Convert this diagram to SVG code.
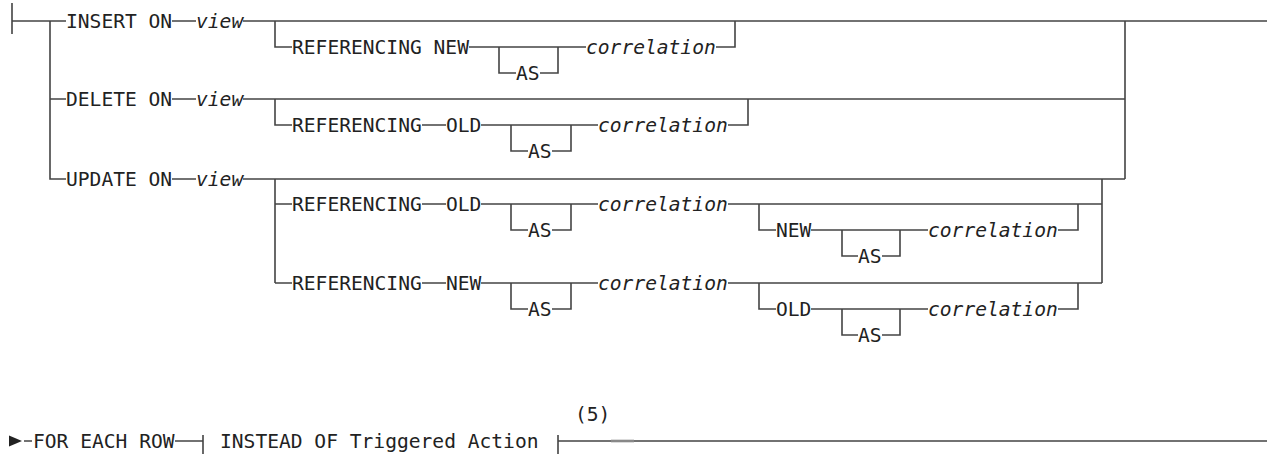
<svg xmlns="http://www.w3.org/2000/svg" width="1267" height="454" viewBox="0 0 1267 454">
<style>
.l{fill:none;stroke:#444;stroke-width:1.6;stroke-linecap:butt;stroke-linejoin:miter}
.k{font-family:"DejaVu Sans Mono","Liberation Mono",monospace;font-size:19.6px;fill:#222}
.v{font-family:"DejaVu Sans Mono","Liberation Mono",monospace;font-size:19.6px;font-style:italic;fill:#222}
</style>
<rect width="1267" height="454" fill="#fff"/>
<g id="connectors">
<path class="l" d="M12 3V34M12 21H66M172 21H196M243 21H1267M50 21V179H66M50 99H66M1125 21V179"/>
<path class="l" d="M275 21V47H292M469 47H586M499 47V73H516M540 73H558V47M716 47H735V21"/>
<path class="l" d="M172 99H196M243 99H1125M275 99V125H292M422 125H446M481 125H598M511 125V151H528M552 151H571V125M728 125H748V99"/>
<path class="l" d="M172 179H196M243 179H1125M275 179V283M275 204H292M275 283H292M1102 179V283"/>
<path class="l" d="M422 204H446M481 204H598M511 204V230H528M552 230H571V204M728 204H1102"/>
<path class="l" d="M759 204V230H776M811 230H928M842 230V256H858M882 256H900V230M1058 230H1078V204"/>
<path class="l" d="M422 283H446M481 283H598M511 283V309H528M552 309H571V283M728 283H1102"/>
<path class="l" d="M759 283V309H776M811 309H928M842 309V335H858M882 335H900V309M1058 309H1078V283"/>
<polygon points="9,435.5 9,446.5 22,441" fill="#222"/>
<path class="l" d="M24 441H32M175 441H203M203 435V454M558 435V454M558 441H1267"/>
<path d="M611 441H634" stroke="#888" stroke-width="2.6"/>
</g>
<g id="insert"><text class="k" x="66" y="28">INSERT ON</text><text class="v" x="196" y="28">view</text></g>
<g id="insert-ref"><text class="k" x="292" y="54">REFERENCING NEW</text><text class="k" x="516" y="80">AS</text><text class="v" x="586" y="54">correlation</text></g>
<g id="delete"><text class="k" x="66" y="106">DELETE ON</text><text class="v" x="196" y="106">view</text></g>
<g id="delete-ref"><text class="k" x="292" y="132">REFERENCING</text><text class="k" x="446" y="132">OLD</text><text class="k" x="528" y="158">AS</text><text class="v" x="598" y="132">correlation</text></g>
<g id="update"><text class="k" x="66" y="186">UPDATE ON</text><text class="v" x="196" y="186">view</text></g>
<g id="update-ref-old"><text class="k" x="292" y="211">REFERENCING</text><text class="k" x="446" y="211">OLD</text><text class="k" x="528" y="237">AS</text><text class="v" x="598" y="211">correlation</text></g>
<g id="update-new"><text class="k" x="776" y="237">NEW</text><text class="k" x="858" y="263">AS</text><text class="v" x="928" y="237">correlation</text></g>
<g id="update-ref-new"><text class="k" x="292" y="290">REFERENCING</text><text class="k" x="446" y="290">NEW</text><text class="k" x="528" y="316">AS</text><text class="v" x="598" y="290">correlation</text></g>
<g id="update-old"><text class="k" x="776" y="316">OLD</text><text class="k" x="858" y="342">AS</text><text class="v" x="928" y="316">correlation</text></g>
<g id="for-each-row"><text class="k" x="33" y="448">FOR EACH ROW</text></g>
<g id="instead-of"><text class="k" x="220" y="448">INSTEAD OF Triggered Action</text></g>
<g id="note"><text class="k" x="575" y="421">(5)</text></g>
</svg>
